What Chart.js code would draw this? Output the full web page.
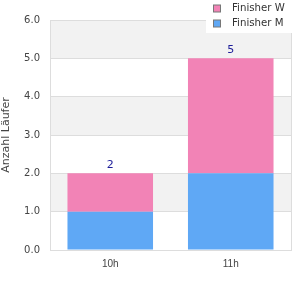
<!DOCTYPE html>
<html><head><meta charset="utf-8">
<script src="https://cdn.jsdelivr.net/npm/chart.js@4/dist/chart.umd.min.js"></script>
<style>html,body{margin:0;padding:0;background:#fff}#w{width:300px;height:300px}</style>
</head><body><div id="w"><canvas id="c" width="300" height="300"></canvas></div>
<script>
const categories = ["10h", "11h"];
const finisherM = [1, 2];
const finisherW = [1, 3];
const seriesNames = ["Finisher W", "Finisher M"];
const yTicks = [0, 1, 2, 3, 4, 5, 6];
const yTitle = "Anzahl Läufer";

const pink = "#f283b6", blue = "#5fa8f5";
const FONT = "DejaVu Sans";

const bands = {
  id: "bands",
  beforeDraw(chart) {
    const {ctx, chartArea: a, scales: {y}} = chart;
    ctx.save();
    for (let i = 0; i < yTicks.length - 1; i++) {
      if ((yTicks.length - 2 - i) % 2 === 0) {
        const t = y.getPixelForValue(yTicks[i + 1]), b = y.getPixelForValue(yTicks[i]);
        ctx.fillStyle = "#f2f2f2";
        ctx.fillRect(a.left, t, a.right - a.left, b - t);
      }
    }
    ctx.restore();
  },
  afterDraw(chart) {
    const {ctx, chartArea: a, scales: {x, y}} = chart;
    ctx.save();
    ctx.strokeStyle = "#dddddd"; ctx.lineWidth = 1;
    ctx.beginPath();
    ctx.moveTo(a.right + 0.5, a.top); ctx.lineTo(a.right + 0.5, a.bottom + 1);
    ctx.stroke();
    // totals
    ctx.fillStyle = "#1c1c99";
    ctx.font = "11px '" + FONT + "'";
    ctx.textAlign = "center"; ctx.textBaseline = "bottom";
    categories.forEach((c, i) => {
      const tot = finisherM[i] + finisherW[i];
      ctx.fillText(String(tot), x.getPixelForValue(i), y.getPixelForValue(tot) - 3);
    });
    // legend
    ctx.fillStyle = "#ffffff";
    ctx.fillRect(206, 0, 94, 33);
    const items = [[seriesNames[0], pink], [seriesNames[1], blue]];
    items.forEach((it, k) => {
      const cy = 8.5 + k * 15;
      ctx.fillStyle = it[1];
      ctx.fillRect(213.5, cy - 3.5, 7, 7);
      ctx.strokeStyle = "#777"; ctx.lineWidth = 1;
      ctx.strokeRect(213.5, cy - 3.5, 7, 7);
      ctx.fillStyle = "#333";
      ctx.textAlign = "left"; ctx.textBaseline = "middle";
      ctx.font = "10.2px '" + FONT + "'";
      ctx.fillText(it[0], 232, cy);
    });
    ctx.restore();
  }
};

new Chart(document.getElementById("c"), {
  type: "bar",
  data: {
    labels: categories,
    datasets: [
      {label: seriesNames[1], data: finisherM, backgroundColor: blue, stack: "s", barPercentage: 0.71, categoryPercentage: 1},
      {label: seriesNames[0], data: finisherW, backgroundColor: pink, stack: "s", barPercentage: 0.71, categoryPercentage: 1}
    ]
  },
  options: {
    responsive: false, animation: false,
    layout: {padding: {top: 20, right: 9, left: 0, bottom: 0}},
    plugins: {legend: {display: false}, tooltip: {enabled: false}},
    scales: {
      x: {
        stacked: true,
        grid: {display: false, drawTicks: false},
        border: {color: "#dddddd"},
        ticks: {color: "#444", font: {family: "Liberation Sans", size: 10}, padding: 8},
        afterFit(s) { s.height = 50; }
      },
      y: {
        stacked: true, min: 0, max: 6,
        grid: {color: "#dddddd", drawTicks: false},
        border: {color: "#dddddd"},
        ticks: {stepSize: 1, color: "#444", font: {family: FONT, size: 10}, padding: 10,
                callback: v => v.toFixed(1)},
        title: {display: true, text: yTitle, color: "#444", font: {family: FONT, size: 11}, padding: 0},
        afterFit(s) { s.width = 50; }
      }
    }
  },
  plugins: [bands]
});
</script></body></html>
